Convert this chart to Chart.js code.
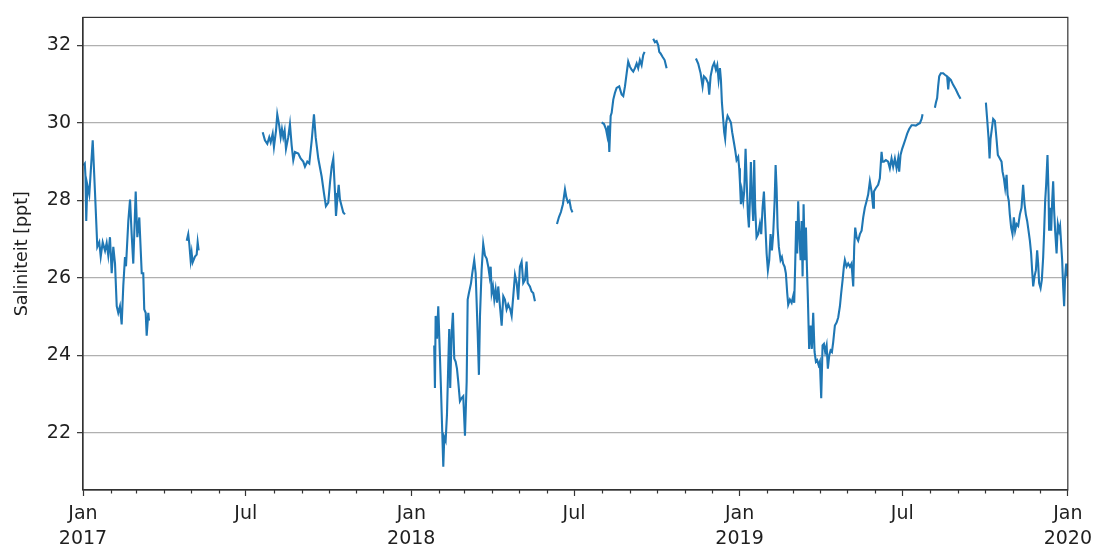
<!DOCTYPE html>
<html>
<head>
<meta charset="utf-8">
<script src="https://cdn.jsdelivr.net/npm/chart.js@4.4.1/dist/chart.umd.min.js"></script>
<style>
  html, body { margin: 0; padding: 0; background: #fff; }
  #wrap { width: 1097px; height: 549px; position: relative; }
</style>
</head>
<body>
<div id="wrap"><canvas id="grafiek" width="1097" height="549"></canvas></div>
<script>
// dagnummer = dagen sinds 1 jan 2017, null = geen meting (gat in de lijn)
var dagNr = [
  0.5, 2.0, 2.8, 3.6, 4.8, 7, 10.8, 13.3, 15.9, 18.1, 19.7, 21.9, 24.5, 26.3, 28.1, 30, 31.9, 33.7, 35.6, 37.5,
  39.2, 41.1, 43, 44.8, 46.7, 47.8, 50.4, 52.3, 54.1, 55.9, 58.6, 60.4, 62.6, 65.3, 67, 68.1, 69.7, 70.8, 72.6, 73.4,
  90,
  115.3, 117, 118.2, 119.7, 120.8, 121.9, 124.5, 126.4, 127.5, 128.6,
  160,
  199.8, 202.3, 204.9, 207.1, 208.7, 210.9, 212.3, 214.6, 216, 218.2, 219.8, 221.2, 222.7, 224.2, 225.7, 228.2,
  230.1, 232, 233.8, 235.7, 239.4, 242, 244.9, 246.8, 249.4, 251.6, 254.3, 256.8, 258.7, 261.6, 265.4, 267.9,
  270.1, 272.7, 274.6, 276.5, 278.3, 280.2, 281.3, 282.7, 284.3, 285.7, 287.6, 289.4, 291.3,
  340,
  390.5, 391.3, 392.1, 393.6, 395, 396.6, 398, 399.4, 400.6, 401.7, 403.2, 404.7, 406.1, 407.2, 408.3, 409.9,
  411.3, 412.8, 414.3, 415.8, 417.2, 419.1, 421, 422.8, 424.7, 426.6, 427.7, 429.1, 431.4, 432.8, 435, 436.6,
  438.8, 440.2, 441.4, 443.2, 445, 446.9, 448.8, 450.6, 452.1, 453.3, 454.4, 455.8, 457.3, 458.8, 460.3, 461.7,
  463.6, 465.5, 467.3, 469.1, 471, 472.8, 475, 476.6, 478.4, 480.3, 482.2, 483.9, 485.8, 487.7, 489.5, 491.4,
  493.2, 494.4, 496.9, 498.8, 500.6, 502.5,
  515,
  527, 529.2, 531.4, 533.6, 535.9, 537.5, 539.2, 540.9, 542.5, 544.2,
  560,
  576.7, 579.3, 581.5, 582.9, 584, 585.2, 586.7, 587.8, 589.6, 591.4, 593.3, 596.2, 598.9, 600.7, 602.6, 604.5,
  606.2, 608.1, 610, 611.8, 613.7, 615.6, 617.3, 619.2, 621.1, 622.9, 624.4,
  629,
  634, 635.9, 637.8, 639.6, 640.7, 642.2, 644.5, 646.7, 648.9,
  665,
  681.5, 684.0, 686.7, 688.9, 690.4, 692.6, 695.1, 696.3, 697.8, 700.0, 701.8, 703.7, 705.2, 706.7, 708.2, 709.3,
  710.4, 711.8, 712.9, 714.0, 715.2, 716.7, 718.5, 720.4, 721.8, 723.7, 725.2, 726.7, 728.5, 729.6, 730.4, 731.5,
  732.6, 734.1, 735.2, 736.7, 737.8, 739.3, 740.4, 741.5, 742.6, 743.7, 745.2, 746.3, 747.4, 748.9, 750.7, 752.6,
  754.1, 755.6, 757.1, 758.5, 760.1, 761.5, 763.0, 764.5, 766.0, 767.4, 769.0, 770.1, 771.2, 772.3, 773.7, 775.6,
  777.1, 778.5, 780.1, 781.5, 783.0, 784.1, 786.0, 787.9, 789.6, 790.8, 791.9, 793.0, 794.1, 795.2, 796.3, 797.9,
  799.0, 800.1, 801.2, 802.6, 803.8, 804.9, 806.0, 807.4, 809.0, 810.4, 811.9, 813.4, 814.9, 816.3, 817.9, 819.3,
  820.8, 822.3, 823.8, 825.2, 826.8, 828.2, 829.7, 831.2, 832.7, 834.1, 836.0, 837.9, 839.7, 841.6, 843.0, 844.6,
  846.0, 847.1, 849.0, 850.8, 852.7, 854.5, 856.4, 857.5, 858.6, 860.1, 861.9, 863.8,
  865.7, 867.5, 869.3, 871.2, 873.0, 874.9, 876.8, 878.6, 879.4, 881.6, 884.1, 886.0, 887.9, 889.0, 890.5, 892.7,
  895.2, 897.1, 899.0, 900.8, 902.7, 904.6, 906.4, 907.5, 909.0, 910.8, 912.7, 914.6, 916.4, 918.6, 921.3, 923.8,
  926.0, 928.6, 930.5, 932.4, 933.5,
  940,
  947.2, 948.3, 949.7, 950.8, 952.0, 953.8, 956.4, 958.3, 960.8, 962.0, 963.1, 964.9, 967.5, 970.5, 973.1, 975.7,
  990,
  1003.9, 1005.3, 1006.9, 1008.0, 1009.1, 1010.5, 1012.0, 1013.9, 1015.7, 1017.2, 1019.4, 1021.3, 1022.4, 1023.9,
  1025.3, 1026.9, 1028.0, 1029.4, 1030.5, 1032.0, 1033.5, 1035.0, 1036.4, 1038.0, 1039.8, 1041.7, 1043.5, 1045.3,
  1046.9, 1048.3, 1049.8, 1051.3, 1052.8, 1054.2, 1055.3, 1056.5, 1058.0, 1059.5, 1060.9, 1062.0, 1063.1, 1064.7,
  1066.1, 1067.6, 1068.7, 1069.8, 1070.9, 1072.4, 1073.6, 1074.2, 1075.4, 1076.5, 1077.6, 1078.7, 1079.8, 1080.9,
  1082.5, 1083.9, 1085.3, 1086.4, 1087.6, 1088.7, 1089.8, 1090.9, 1092.0, 1093.2, 1093.9
];
var saliniteit = [
  28.9, 28.95, 28.6, 27.47, 28.4, 28.15, 29.55, 28.23, 26.8, 26.92, 26.55, 26.92, 26.7, 26.9, 26.58, 27.05, 26.12, 26.8, 26.37, 25.27,
  25.1, 25.27, 24.8, 25.8, 26.54, 26.3, 27.47, 28.02, 27.13, 26.37, 28.23, 27.05, 27.56, 26.12, 26.12, 25.19, 25.1, 24.51, 25.1, 24.9,
  null,
  26.96, 27.13, 26.88, 26.45, 26.65, 26.4, 26.55, 26.6, 26.92, 26.71,
  null,
  29.76, 29.55, 29.46, 29.63, 29.5, 29.72, 29.38, 29.8, 30.22, 29.93, 29.63, 29.84, 29.63, 29.8, 29.33, 29.63,
  29.97, 29.42, 29.04, 29.25, 29.21, 29.08, 29.0, 28.87, 29.0, 28.95, 29.55, 30.22, 29.63, 29.08, 28.61, 28.19,
  27.85, 27.94, 28.45, 28.87, 29.08, 28.19, 27.6, 28.02, 28.4, 28.02, 27.85, 27.69, 27.64,
  null,
  24.26, 23.16, 25.02, 24.43, 25.27, 24.17, 23.16, 22.06, 21.13, 21.89, 21.8, 22.48, 23.75, 24.68, 23.16, 24.6,
  25.1, 23.92, 23.84, 23.66, 23.33, 22.82, 22.9, 22.95, 21.93, 23.33, 25.44, 25.61, 25.86, 26.12, 26.46, 26.12,
  24.6, 23.5, 25.02, 26.2, 26.88, 26.58, 26.5, 26.29, 26.04, 26.29, 25.61, 25.78, 25.44, 25.7, 25.36, 25.78,
  25.27, 24.77, 25.53, 25.44, 25.19, 25.32, 25.19, 25.02, 25.53, 26.08, 25.87, 25.44, 26.29, 26.42, 25.87, 25.95,
  26.42, 25.87, 25.78, 25.65, 25.61, 25.4,
  null,
  27.39, 27.57, 27.7, 27.9, 28.28, 28.07, 27.95, 27.99, 27.79, 27.69,
  null,
  30.01, 29.97, 29.84, 29.67, 29.93, 29.25, 30.18, 30.26, 30.6, 30.77, 30.9, 30.94, 30.73, 30.69, 30.94, 31.28,
  31.58, 31.45, 31.37, 31.32, 31.41, 31.53, 31.41, 31.62, 31.49, 31.75, 31.83,
  null,
  32.17, 32.08, 32.11, 32.0, 31.83, 31.79, 31.7, 31.62, 31.41,
  null,
  31.66, 31.53, 31.28, 30.94, 31.2, 31.15, 31.02, 30.73, 31.2, 31.45, 31.55, 31.37, 31.49, 31.11, 31.41, 31.11,
  30.52, 30.1, 29.76, 29.59, 30.01, 30.18, 30.1, 30.01, 29.76, 29.5, 29.29, 29.04, 29.12, 28.83, 28.49, 27.9,
  28.23, 27.98, 28.23, 29.33, 28.57, 27.64, 27.3, 27.98, 28.99, 28.15, 27.47, 29.04, 27.81, 27.05, 27.13, 27.39,
  27.13, 27.81, 28.23, 27.47, 26.63, 26.2, 26.46, 27.13, 26.71, 27.13, 27.98, 28.91, 28.32, 27.3, 26.8, 26.46,
  26.54, 26.37, 26.29, 26.12, 25.61, 25.31, 25.44, 25.36, 25.53, 25.36, 26.37, 27.47, 26.63, 27.98, 27.22, 26.46,
  27.47, 26.04, 27.9, 26.46, 27.3, 26.29, 25.44, 24.17, 24.77, 24.17, 25.1, 24.09, 23.84, 23.88, 23.75, 23.84,
  22.9, 24.26, 24.3, 24.09, 24.26, 23.66, 24.0, 24.13, 24.09, 24.34, 24.77, 24.85, 24.98, 25.27, 25.61, 25.95,
  26.29, 26.46, 26.29, 26.37, 26.29, 26.37, 25.78, 26.8, 27.3, 27.05, 26.96, 27.13,
  27.22, 27.56, 27.81, 27.98, 28.15, 28.49, 28.23, 27.81, 28.23, 28.32, 28.4, 28.57, 29.25, 29.0, 29.0, 29.04,
  29.0, 28.83, 29.08, 28.87, 29.08, 28.83, 29.08, 28.74, 29.17, 29.33, 29.46, 29.59, 29.72, 29.84, 29.94, 29.94,
  29.93, 29.97, 29.99, 30.1, 30.22,
  null,
  30.39, 30.52, 30.64, 30.94, 31.2, 31.28, 31.28, 31.24, 31.2, 30.86, 31.15, 31.11, 30.98, 30.86, 30.73, 30.62,
  null,
  30.52, 30.1, 29.59, 29.08, 29.59, 29.84, 30.1, 30.05, 29.59, 29.17, 29.08, 29.0, 28.74, 28.57,
  28.32, 28.66, 28.15, 27.98, 27.64, 27.3, 27.13, 27.56, 27.22, 27.39, 27.34, 27.64, 27.81, 28.4,
  27.9, 27.64, 27.47, 27.22, 26.96, 26.63, 26.2, 25.78, 26.04, 26.2, 26.71, 26.37, 25.87, 25.74,
  25.95, 26.54, 27.22, 27.98, 28.4, 29.17, 28.15, 27.22, 27.81, 27.22, 27.98, 28.49, 27.73, 27.22,
  26.63, 27.39, 27.22, 27.34, 26.88, 26.46, 25.78, 25.27, 26.04, 26.37, 26.04
];
var yTicks = [22, 24, 26, 28, 30, 32];
var maandNamen = ['Jan', 'Feb', 'Mar', 'Apr', 'May', 'Jun', 'Jul', 'Aug', 'Sep', 'Oct', 'Nov', 'Dec'];
var startJaar = 2017, eindJaar = 2020;

// maandgrenzen als dagnummer
var maandTicks = [];
var basis = Date.UTC(startJaar, 0, 1);
for (var j = startJaar; j <= eindJaar; j++) {
    for (var m = 0; m < 12; m++) {
        if (j === eindJaar && m > 0) break;
        maandTicks.push({ dag: (Date.UTC(j, m, 1) - basis) / 86400000, jaar: j, maand: m });
    }
}
function isHoofdTick(t) { return t.maand === 0 || t.maand === 6; }

var punten = dagNr.map(function (d, i) { return { x: d, y: saliniteit[i] }; });

// kader rond plotgebied + kleine maandstreepjes
var kaderPlugin = {
    id: 'kader',
    afterDraw: function (chart) {
        var ctx = chart.ctx, a = chart.chartArea, xs = chart.scales.x;
        ctx.save();
        ctx.strokeStyle = '#333';
        ctx.lineWidth = 1.2;
        maandTicks.forEach(function (t) {
            if (isHoofdTick(t)) return;
            var px = Math.round(xs.getPixelForValue(t.dag)) + 0.5;
            ctx.beginPath();
            ctx.moveTo(px, a.bottom);
            ctx.lineTo(px, a.bottom + 3.5);
            ctx.stroke();
        });
        ctx.strokeRect(a.left, a.top, a.right - a.left, a.bottom - a.top);
        ctx.restore();
    }
};

var ctx = document.getElementById('grafiek').getContext('2d');
var grafiek = new Chart(ctx, {
    type: 'line',
    data: {
        datasets: [{
            label: 'Saliniteit',
            data: punten,
            borderColor: '#1f77b4',
            borderWidth: 2.1,
            pointRadius: 0,
            fill: false,
            spanGaps: false,
            tension: 0
        }]
    },
    options: {
        responsive: false,
        animation: false,
        layout: { padding: { left: 0, right: 29, top: 10, bottom: 0 } },
        plugins: { legend: { display: false }, tooltip: { enabled: false } },
        scales: {
            x: {
                type: 'linear',
                min: 0,
                max: (Date.UTC(eindJaar, 0, 1) - basis) / 86400000,
                afterBuildTicks: function (scale) {
                    scale.ticks = maandTicks.filter(isHoofdTick).map(function (t) { return { value: t.dag }; });
                },
                afterFit: function (scale) { scale.height = 59; },
                grid: { drawOnChartArea: false, tickLength: 6, tickColor: '#333', tickWidth: 1.2 },
                border: { color: '#333', width: 1.2 },
                ticks: {
                    autoSkip: false,
                    maxRotation: 0,
                    padding: 5,
                    color: '#1f1f1f',
                    font: { family: 'DejaVu Sans', size: 19, lineHeight: 1.33 },
                    callback: function (value) {
                        var t = maandTicks.find(function (k) { return Math.abs(k.dag - value) < 0.01; });
                        if (!t) return '';
                        if (t.maand === 0) return [maandNamen[0], String(t.jaar)];
                        return maandNamen[t.maand];
                    }
                }
            },
            y: {
                min: 20.53,
                max: 32.72,
                afterBuildTicks: function (scale) {
                    scale.ticks = yTicks.map(function (v) { return { value: v }; });
                },
                afterFit: function (scale) { scale.width = 83; },
                grid: { color: '#b0b0b0', lineWidth: 1.3, tickLength: 6, tickColor: '#333', tickWidth: 1.2 },
                border: { color: '#333', width: 1.2 },
                ticks: {
                    padding: 6,
                    color: '#1f1f1f',
                    font: { family: 'DejaVu Sans', size: 19 }
                },
                title: {
                    display: true,
                    text: 'Saliniteit [ppt]',
                    color: '#1f1f1f',
                    font: { family: 'DejaVu Sans', size: 17.5 },
                    padding: { top: 12, bottom: 0 }
                }
            }
        }
    },
    plugins: [kaderPlugin]
});
</script>
</body>
</html>
